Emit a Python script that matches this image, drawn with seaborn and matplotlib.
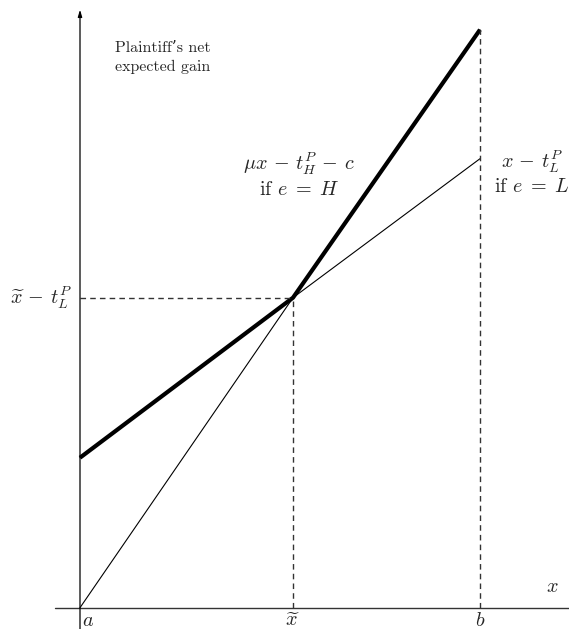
import matplotlib
matplotlib.use("Agg")
import matplotlib.pyplot as plt
import seaborn as sns
import pandas as pd

# points on the x axis: a, x-tilde, b
x_pts = [0, 213, 400]
x_names = [r"$a$", r"$\widetilde{x}$", r"$b$"]

# x - t_L^P   (e = L)
line_L = [150, 310, 449]
# mu x - t_H^P - c   (e = H)
line_H = [0, 310, 578]

# upper envelope = net expected gain
gain = [max(l, h) for l, h in zip(line_L, line_H)]

sns.set_style("white")
plt.rcParams["mathtext.fontset"] = "cm"
plt.rcParams["font.family"] = ["cmr10", "DejaVu Serif"]
plt.rcParams["axes.formatter.use_mathtext"] = True

fig = plt.figure(figsize=(5.69, 6.29), dpi=100)
ax = fig.add_axes([0, 0, 1, 1])
ax.set_xlim(-80, 489)
ax.set_ylim(-21.3, 607.7)
ax.axis("off")

df = pd.DataFrame({"x": x_pts, "L": line_L, "H": line_H, "gain": gain})

sns.lineplot(data=df, x="x", y="L", ax=ax, color="black", lw=0.8)
sns.lineplot(data=df, x="x", y="H", ax=ax, color="black", lw=0.8)
sns.lineplot(data=df, x="x", y="gain", ax=ax, color="black", lw=3.0,
             solid_capstyle="butt")

# guide lines
dash = dict(color="#333333", lw=1.0, ls=(0, (4, 3)))
ax.plot([x_pts[0], x_pts[1]], [line_L[1], line_L[1]], **dash)
ax.plot([x_pts[1], x_pts[1]], [0, line_L[1]], **dash)
ax.plot([x_pts[2], x_pts[2]], [0, gain[2]], **dash)

# axes
ax.plot([-25, 489], [0, 0], color="#333333", lw=1.0)
ax.annotate("", xy=(0, 598), xytext=(0, -21.3),
            arrowprops=dict(arrowstyle="-|>,head_length=0.4,head_width=0.12",
                            color="black", lw=0.9, shrinkA=0, shrinkB=0))

# labels
fs = 14.5
ax.text(x_pts[0] + 2, -4, x_names[0], fontsize=fs, ha="left", va="top")
ax.text(x_pts[1], -4, x_names[1], fontsize=fs, ha="center", va="top")
ax.text(x_pts[2], -4, x_names[2], fontsize=fs, ha="center", va="top")
ax.text(472, 12, r"$x$", fontsize=fs, ha="center", va="bottom")

ax.text(-8, line_L[1], r"$\widetilde{x} \,-\, t_L^P$", fontsize=fs,
        ha="right", va="center")

ax.text(35, 566, "Plaintiff\u2019s net\nexpected gain", fontsize=11.5,
        ha="left", va="top", linespacing=1.35)

ax.text(219, 444, r"$\mu x \,-\, t_H^P \,-\, c$", fontsize=fs,
        ha="center", va="center")
ax.text(219, 418, r"if $e \;=\; H$", fontsize=fs, ha="center", va="center")

ax.text(452, 446, r"$x \,-\, t_L^P$", fontsize=fs, ha="center", va="center")
ax.text(452, 421, r"if $e \;=\; L$", fontsize=fs, ha="center", va="center")

fig.savefig("out.png", dpi=100)
